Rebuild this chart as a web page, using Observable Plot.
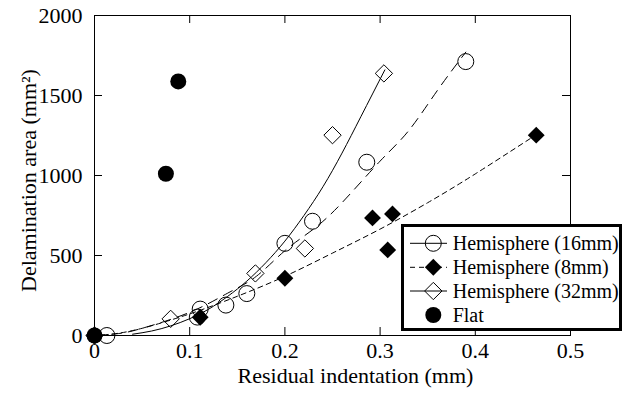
<!DOCTYPE html>
<html><head><meta charset="utf-8">
<script src="https://cdn.jsdelivr.net/npm/d3@7"></script>
<script src="https://cdn.jsdelivr.net/npm/@observablehq/plot@0.6"></script>
<style>
body{margin:0;background:#fff;}
#wrap{position:relative;width:631px;height:394px;font-family:"Liberation Serif","Times New Roman",serif;}
#legend{position:absolute;left:401px;top:224px;}
</style></head><body><div id="wrap"></div>
<script>
const xTicks = [0, 0.1, 0.2, 0.3, 0.4, 0.5];
const yTicks = [0, 500, 1000, 1500, 2000];
const xLabel = "Residual indentation (mm)";
const yLabel = "Delamination area (mm²)";
const seriesNames = ["Hemisphere (16mm)", "Hemisphere (8mm)", "Hemisphere (32mm)", "Flat"];

// measured points [x, y]
const hemi16 = [[0.013,0],[0.108,115],[0.111,165],[0.138,190],[0.160,262],[0.200,576],[0.229,714],[0.286,1083],[0.390,1712]];
const hemi8 = [[0,0],[0.111,114],[0.200,358],[0.292,735],[0.313,760],[0.308,535],[0.464,1252]];
const hemi32 = [[0,0],[0.080,104],[0.169,388],[0.221,544],[0.250,1252],[0.304,1638]];
const flat = [[0,0],[0.075,1011],[0.088,1588]];

// fitted curves [x, y]
const fit16 = [[0,0],[0.025,12],[0.05,45],[0.1,145],[0.14,265],[0.17,370],[0.2,530],[0.23,665],[0.26,830],[0.3,1090],[0.33,1280],[0.36,1530],[0.39,1771]];
const fit8 = [[0,0],[0.02,10],[0.05,45],[0.1,135],[0.15,245],[0.2,370],[0.25,515],[0.3,665],[0.35,830],[0.4,1010],[0.464,1255]];
const fit32 = [[0.04,8],[0.06,28],[0.08,60],[0.10,105],[0.12,165],[0.14,245],[0.16,340],[0.18,455],[0.20,590],[0.22,750],[0.24,930],[0.26,1140],[0.28,1370],[0.305,1660]];

const X = d => d[0], Y = d => d[1];
const inner = a => a.slice(1, -1);

const chart = Plot.plot({
  width: 631, height: 394,
  marginLeft: 94, marginRight: 61, marginTop: 15, marginBottom: 59,
  style: {fontFamily: '"Liberation Serif","Times New Roman",serif', fontSize: "22px", color: "black", background: "white"},
  x: {domain: [0, 0.5]},
  y: {domain: [0, 2000]},
  marks: [
    Plot.axisX(xTicks, {tickSize: 0, tickPadding: 7, fontSize: 22, label: null, tickFormat: d => String(d)}),
    Plot.axisY(yTicks, {tickSize: 0, tickPadding: 12, fontSize: 22, label: null, tickFormat: d => String(d)}),
    Plot.tickX(inner(xTicks), {x: d => d, insetTop: 312, stroke: "black"}),
    Plot.tickX(inner(xTicks), {x: d => d, insetBottom: 312, stroke: "black"}),
    Plot.tickY(inner(yTicks), {y: d => d, insetRight: 468, stroke: "black"}),
    Plot.tickY(inner(yTicks), {y: d => d, insetLeft: 468, stroke: "black"}),
    Plot.line(fit16, {x: X, y: Y, curve: "natural", stroke: "black", strokeWidth: 1, strokeDasharray: "10,7"}),
    Plot.line(fit8, {x: X, y: Y, curve: "natural", stroke: "black", strokeWidth: 1, strokeDasharray: "5,4"}),
    Plot.line(fit32, {x: X, y: Y, curve: "natural", stroke: "black", strokeWidth: 1}),
    Plot.dot(hemi32, {x: X, y: Y, symbol: "diamond2", r: 7.8, stroke: "black", strokeWidth: 1, fill: "none"}),
    Plot.dot(hemi16, {x: X, y: Y, symbol: "circle", r: 8, stroke: "black", strokeWidth: 1, fill: "none"}),
    Plot.dot(hemi8, {x: X, y: Y, symbol: "diamond2", r: 7.6, fill: "black", stroke: "none"}),
    Plot.dot(flat, {x: X, y: Y, symbol: "circle", r: 8, fill: "black", stroke: "none"}),
    Plot.frame({stroke: "black", strokeWidth: 1}),
    Plot.text([xLabel], {text: d => d, frameAnchor: "bottom", dx: 23, dy: 47, fontSize: 22}),
    Plot.text([yLabel], {text: d => d, frameAnchor: "left", textAnchor: "middle", rotate: -90, dx: -66, dy: 5, fontSize: 22})
  ]
});
const wrap = document.getElementById("wrap");
wrap.appendChild(chart);

// legend
const lg = d3.select(wrap).append("svg").attr("id", "legend").attr("width", 222).attr("height", 108);
lg.append("rect").attr("x", 1.5).attr("y", 1.5).attr("width", 218).attr("height", 104)
  .attr("fill", "white").attr("stroke", "black").attr("stroke-width", 3);
const rows = [
  {sym: d3.symbolCircle, size: Math.PI * 64, fill: "none", stroke: "black", dash: null},
  {sym: d3.symbolDiamond2, size: Math.PI * 7.6 * 7.6, fill: "black", stroke: "none", dash: "5,4"},
  {sym: d3.symbolDiamond2, size: Math.PI * 7.8 * 7.8, fill: "none", stroke: "black", dash: null},
  {sym: d3.symbolCircle, size: Math.PI * 64, fill: "black", stroke: "none", dash: null, noline: true}
];
const rowY = [19.3, 43.3, 67, 91];
rows.forEach((r, i) => {
  const g = lg.append("g").attr("transform", `translate(0,${rowY[i]})`);
  if (!r.noline) g.append("line").attr("x1", 9).attr("x2", 46).attr("y1", 0).attr("y2", 0)
    .attr("stroke", "black").attr("stroke-width", 1).attr("stroke-dasharray", r.dash);
  g.append("path").attr("transform", "translate(32.3,0)").attr("d", d3.symbol(r.sym, r.size)())
    .attr("fill", r.fill === "none" ? "white" : r.fill).attr("fill-opacity", r.fill === "none" ? 0 : 1)
    .attr("stroke", r.stroke).attr("stroke-width", 1);
  g.append("text").attr("x", 51.7).attr("y", 0).attr("dy", "0.35em")
    .attr("font-family", '"Liberation Serif","Times New Roman",serif').attr("font-size", 20)
    .text(seriesNames[i]);
});
</script></body></html>
